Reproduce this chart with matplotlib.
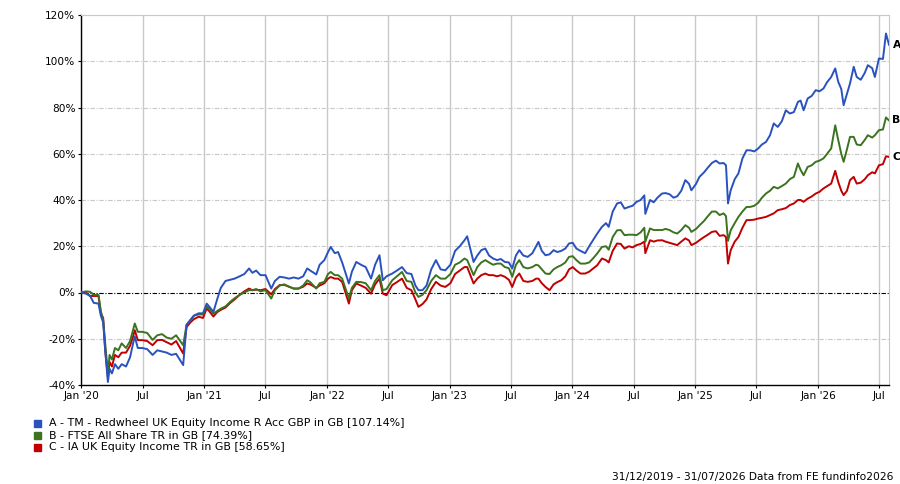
import matplotlib
matplotlib.use("Agg")
import matplotlib.pyplot as plt
import matplotlib.dates as mdates
from matplotlib.patches import Rectangle
import pandas as pd

# cumulative total return (%)
dates = [
    "2019-12-31", "2020-01-15", "2020-01-27", "2020-02-07", "2020-02-21", "2020-02-28",
    "2020-03-06", "2020-03-12", "2020-03-20", "2020-03-25", "2020-04-01", "2020-04-10",
    "2020-04-20", "2020-04-30", "2020-05-13", "2020-05-25", "2020-06-03", "2020-06-08",
    "2020-06-17", "2020-06-30", "2020-07-15", "2020-07-31", "2020-08-14", "2020-08-28",
    "2020-09-11", "2020-09-25", "2020-10-09", "2020-10-30", "2020-11-09", "2020-11-20",
    "2020-12-01", "2020-12-15", "2020-12-28", "2021-01-08", "2021-01-15", "2021-01-28",
    "2021-02-08", "2021-02-19", "2021-03-05", "2021-03-19", "2021-04-01", "2021-04-16",
    "2021-04-30", "2021-05-14", "2021-05-24", "2021-06-04", "2021-06-17", "2021-07-02",
    "2021-07-19", "2021-07-30", "2021-08-13", "2021-08-27", "2021-09-10", "2021-09-24",
    "2021-10-08", "2021-10-22", "2021-11-03", "2021-11-12", "2021-11-30", "2021-12-10",
    "2021-12-24", "2022-01-04", "2022-01-12", "2022-01-24", "2022-02-03", "2022-02-15",
    "2022-03-07", "2022-03-16", "2022-03-29", "2022-04-12", "2022-04-26", "2022-05-12",
    "2022-05-24", "2022-06-06", "2022-06-16", "2022-06-27", "2022-07-14", "2022-07-28",
    "2022-08-12", "2022-08-26", "2022-09-09", "2022-09-21", "2022-09-30", "2022-10-12",
    "2022-10-24", "2022-11-07", "2022-11-21", "2022-12-05", "2022-12-19", "2023-01-03",
    "2023-01-17", "2023-01-31", "2023-02-14", "2023-02-22", "2023-03-13", "2023-03-24",
    "2023-04-05", "2023-04-17", "2023-04-28", "2023-05-10", "2023-05-22", "2023-06-02",
    "2023-06-14", "2023-06-26", "2023-07-06", "2023-07-17", "2023-07-27", "2023-08-08",
    "2023-08-21", "2023-09-04", "2023-09-15", "2023-09-22", "2023-10-02", "2023-10-13",
    "2023-10-25", "2023-11-06", "2023-11-17", "2023-11-29", "2023-12-11", "2023-12-22",
    "2024-01-02", "2024-01-13", "2024-01-25", "2024-02-08", "2024-02-20", "2024-03-04",
    "2024-03-15", "2024-03-29", "2024-04-10", "2024-04-18", "2024-04-30", "2024-05-13",
    "2024-05-24", "2024-06-04", "2024-06-17", "2024-06-28", "2024-07-10", "2024-07-22",
    "2024-08-02", "2024-08-05", "2024-08-19", "2024-08-30", "2024-09-10", "2024-09-24",
    "2024-10-04", "2024-10-16", "2024-10-28", "2024-11-08", "2024-11-20", "2024-12-02",
    "2024-12-13", "2024-12-20", "2025-01-03", "2025-01-13", "2025-01-27", "2025-02-07",
    "2025-02-19", "2025-03-03", "2025-03-14", "2025-03-26", "2025-04-02", "2025-04-08",
    "2025-04-16", "2025-04-28", "2025-05-09", "2025-05-21", "2025-06-02", "2025-06-13",
    "2025-06-25", "2025-07-07", "2025-07-18", "2025-07-30", "2025-08-11", "2025-08-22",
    "2025-09-03", "2025-09-15", "2025-09-27", "2025-10-09", "2025-10-21", "2025-11-02",
    "2025-11-10", "2025-11-19", "2025-12-01", "2025-12-13", "2025-12-25", "2026-01-05",
    "2026-01-17", "2026-01-28", "2026-02-09", "2026-02-21", "2026-03-02", "2026-03-11",
    "2026-03-18", "2026-03-28", "2026-04-06", "2026-04-17", "2026-04-26", "2026-05-08",
    "2026-05-20", "2026-05-29", "2026-06-11", "2026-06-19", "2026-07-01", "2026-07-13",
    "2026-07-22", "2026-07-31",
]

fund = [
    0, -0.5, -1.5, -4.5, -4.8, -10,
    -13, -25, -38.7, -33, -35, -31,
    -33, -31, -32, -28, -22, -19,
    -24, -24, -24.5, -27, -25, -25.5,
    -26, -27, -26.5, -31.4, -14, -12,
    -10, -9, -9, -4.8, -6, -8.4,
    -3, 2, 5, 5.5, 6, 7,
    8, 10.4, 8.5, 9.5, 7.5, 7.5,
    1.7, 5, 6.8, 6.5, 6, 6.5,
    6, 7, 10.4, 9.5, 7.8, 12,
    14, 17.5, 19.7, 17, 17.5, 13,
    3.9, 9, 13.2, 12, 11, 6,
    12, 16.1, 5.3, 7, 8.2, 9.5,
    11, 8.4, 8, 3, 1, 1,
    3, 10, 14, 10, 9.6, 12,
    18, 20, 22.6, 24.3, 13.2, 16,
    18.3, 19, 16, 14.7, 14, 14.5,
    13.2, 13, 10.4, 16, 18.3, 16,
    15.4, 17, 20, 21.9, 18, 16.1,
    16.5, 18.3, 17.5, 18, 19, 21.2,
    21.5, 19, 18, 17, 20, 23,
    25.5, 28.4, 30, 28.4, 35, 38.5,
    39, 36.3, 37, 37.5, 39.2, 40,
    42, 34, 40, 39, 41, 42.8,
    43, 42.5, 41, 41.6, 44, 48.6,
    47, 44.2, 47, 50, 52, 54,
    56, 57, 55.8, 56, 55, 38.5,
    44.2, 49, 51.5, 58, 61.5, 61.5,
    61, 62.3, 64, 65.1, 68, 73.1,
    71.6, 74, 78.8, 77.4, 78, 82.4,
    83, 78.8, 83.9, 85, 87.5, 87,
    88.2, 91, 93.2, 96.9, 91.1, 88,
    81, 86, 90.4, 97.6, 93.2, 92,
    95, 98.3, 97, 93.2, 101.2, 101,
    112, 107.14,
]

ftse = [
    0, 0.5, 0.3, -1.0, -1.0, -8,
    -12, -22, -35, -27, -29, -24,
    -25, -22, -24, -21, -16, -13.4,
    -17, -17, -17.5, -20.5, -18.5, -18,
    -19.5, -20, -18.5, -22.8, -14, -12,
    -10, -9.5, -9.5, -6, -7, -9.2,
    -8, -7, -6, -4, -2.5, -1,
    0, 1, 1, 1.5, 0.5, 1,
    -2.6, 1, 3, 3.5, 2.5, 1.7,
    1.7, 3, 5.3, 4.5, 1.7, 4,
    4.6, 8, 8.9, 7.5, 7.5, 6,
    -2.6, 2, 4.6, 4.5, 4, 1,
    5, 7.5, 1, 1.5, 5.3, 7,
    8.9, 5, 4.6, 0, -1.9, -1,
    1, 5, 7.5, 6, 6, 8,
    12, 13, 14.7, 14, 7.5, 11,
    13, 14, 13, 12, 12.5, 12.5,
    11, 10.5, 6.8, 12, 14, 11,
    10.4, 11, 12, 11.7, 10, 8.2,
    8, 10, 11, 11.8, 13, 15.4,
    15.7, 14, 12.5, 12.5, 13, 15,
    16.9, 19.7, 20, 18.5, 24, 26.9,
    27, 24.8, 25, 25, 24.8, 26,
    28, 22, 27.7, 27, 27, 27,
    27.5, 27, 26, 25.5, 27, 29.1,
    28, 26.2, 27.5, 29, 31, 33,
    35, 35, 33.5, 34.2, 33, 22.3,
    26.9, 30, 32.7, 35, 37, 37,
    37.5, 38.8, 41, 42.8, 44, 45.7,
    45, 46, 47.1, 49, 50, 55.8,
    53, 50.7, 54.3, 55, 56.5, 57,
    58, 60, 62.3, 72.3, 65.9, 60,
    56.5, 62, 67.3, 67.3, 64, 63.7,
    66, 68, 67, 68, 70.2, 70.5,
    75.7, 74.39,
]

ia_income = [
    0, 0, -1.5, -1.5, -1.5, -9,
    -11, -25, -36.5, -30, -32, -27,
    -28, -26, -26, -23, -19, -16.3,
    -20.6, -20.6, -21, -22.8, -20.6, -20.5,
    -21.5, -22.5, -21, -26.4, -15, -13,
    -11.5, -10.5, -11, -6.9, -8, -10.4,
    -8.5, -7.5, -6.5, -4.5, -3, -1,
    0.5, 1.7, 1, 1.2, 1.0, 1.5,
    -0.8, 1.5, 3.2, 3.3, 2.5, 1.7,
    1.7, 2.5, 3.9, 3.5, 2, 3,
    4, 6, 6.7, 6, 6, 4.6,
    -4.8, 1, 3.9, 3, 2, -0.5,
    3.5, 6, -0.5, -1.2, 3.2, 4.5,
    6, 2, 1, -3, -6.2, -5,
    -3, 1.5, 4.6, 3, 2.4, 4,
    8, 9.5, 11, 11, 3.9, 6,
    7.5, 8.2, 7.5, 7.5, 7, 7.5,
    6.8, 5.5, 2.4, 6.5, 8.2, 5,
    4.6, 5, 6, 6, 4, 2.4,
    1, 3.5, 4.5, 5.3, 7, 10,
    11, 9.5, 8.2, 8.2, 9, 10.5,
    11.8, 14.7, 14, 13, 18, 21.2,
    21, 19, 20, 19.5, 20.5, 21,
    22, 17, 22.6, 22, 22.5, 22.6,
    22, 21.5, 21, 20.5, 22, 23.4,
    22.5, 20.5, 21.5, 22.6, 24, 25,
    26.2, 26.5, 24.5, 24.8, 24, 12.5,
    18.3, 22, 24, 28, 31.3, 31.3,
    31.5, 32, 32.3, 32.7, 33.5, 34.2,
    35.6, 36, 36.5, 37.8, 38.5, 40,
    40, 39.2, 40.6, 41.5, 42.8, 43.5,
    45, 46, 47.1, 52.6, 47.8, 44,
    42.1, 44, 48.6, 50, 47.1, 47.5,
    49, 50.7, 52, 51.5, 55, 55.5,
    58.9, 58.65,
]

labels = [
    "A - TM - Redwheel UK Equity Income R Acc GBP in GB [107.14%]",
    "B - FTSE All Share TR in GB [74.39%]",
    "C - IA UK Equity Income TR in GB [58.65%]",
]
colors = ["#2a52be", "#3b7320", "#c00000"]

dt = pd.to_datetime(dates)

plt.rcParams["font.family"] = ["DejaVu Sans"]

fig = plt.figure(figsize=(9, 4.84), dpi=100)
ax = fig.add_axes([81 / 900, 1 - 385 / 484, 808 / 900, 370 / 484])

# draw back to front: C, B, A
ax.plot(dt, ia_income, color=colors[2], lw=1.4, zorder=3)
ax.plot(dt, ftse, color=colors[1], lw=1.4, zorder=4)
ax.plot(dt, fund, color=colors[0], lw=1.4, zorder=5)

ax.axhline(0, color="black", lw=0.8, linestyle=(0, (4, 1.5, 1, 1.5)), zorder=2)

ax.set_xlim(pd.Timestamp("2019-12-31"), pd.Timestamp("2026-07-31"))
ax.set_ylim(-40, 120)
ax.set_yticks(range(-40, 121, 20))
ax.set_yticklabels([f"{v}%" for v in range(-40, 121, 20)])

xt = []
xl = []
for yr in range(2020, 2027):
    xt.append(pd.Timestamp(f"{yr}-01-01"))
    xl.append(f"Jan '{yr % 100:02d}")
    xt.append(pd.Timestamp(f"{yr}-07-01"))
    xl.append("Jul")
ax.set_xticks(xt)
ax.set_xticklabels(xl)

ax.tick_params(axis="both", labelsize=7.6, length=2.5, width=0.8, pad=1.5, colors="black")

for xv in xt:
    ax.axvline(xv, color="#c8c8c8", lw=1, zorder=1)
for yv in range(-20, 121, 20):
    if yv != 0:
        ax.axhline(yv, color="#c8c8c8", lw=0.8, linestyle=(0, (4, 1.5, 1, 1.5)), zorder=1)

ax.spines["left"].set_color("black")
ax.spines["bottom"].set_color("black")
ax.spines["left"].set_linewidth(1)
ax.spines["bottom"].set_linewidth(1)
ax.spines["top"].set_color("#c8c8c8")
ax.spines["right"].set_color("#c8c8c8")

# series letters at the right end
for letter, val in zip(["A", "B", "C"], [fund[-1], ftse[-1], ia_income[-1]]):
    ax.annotate(letter, xy=(1, val), xycoords=("axes fraction", "data"),
                xytext=(2.5, 0), textcoords="offset points",
                fontsize=7.8, fontweight="bold", va="center", ha="left")

# legend drawn by hand
leg_y = [423.3, 435.3, 447.3]
for lab, col, yy in zip(labels, colors, leg_y):
    fig.patches.append(Rectangle((34 / 900, 1 - (yy + 3.5) / 484), 6.5 / 900, 7 / 484,
                                 transform=fig.transFigure, color=col))
    fig.text(49 / 900, 1 - yy / 484, lab, fontsize=7.9, va="center", ha="left")

fig.text(893 / 900, 1 - 477 / 484, "31/12/2019 - 31/07/2026 Data from FE fundinfo2026",
         fontsize=7.7, va="center", ha="right")

fig.savefig("out.png", dpi=100)
